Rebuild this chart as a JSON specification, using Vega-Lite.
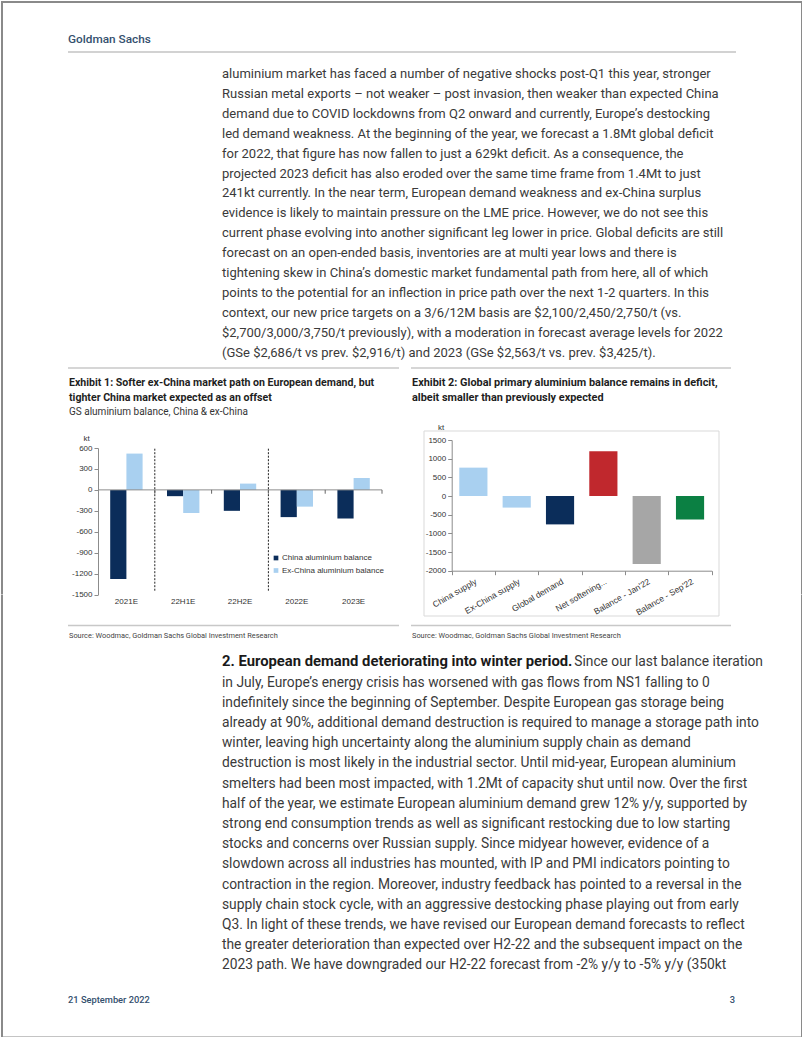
{
  "$schema": "https://vega.github.io/schema/vega-lite/v6.json",
  "padding": 0,
  "background": "white",
  "spacing": 0,
  "bounds": "flush",
  "resolve": {"scale": {"color": "independent"}, "legend": {"color": "independent"}},
  "config": {
    "view": {"stroke": null},
    "axis": {"labelFont": "Liberation Sans", "labelColor": "#333333", "titleFont": "Liberation Sans", "titleColor": "#333333", "domainColor": "#8c8c8c", "tickColor": "#8c8c8c", "grid": false}
  },
  "datasets": {
    "p1": [
      {"line": 1, "text": "aluminium market has faced a number of negative shocks post-Q1 this year, stronger"},
      {"line": 2, "text": "Russian metal exports – not weaker – post invasion, then weaker than expected China"},
      {"line": 3, "text": "demand due to COVID lockdowns from Q2 onward and currently, Europe’s destocking"},
      {"line": 4, "text": "led demand weakness. At the beginning of the year, we forecast a 1.8Mt global deficit"},
      {"line": 5, "text": "for 2022, that figure has now fallen to just a 629kt deficit. As a consequence, the"},
      {"line": 6, "text": "projected 2023 deficit has also eroded over the same time frame from 1.4Mt to just"},
      {"line": 7, "text": "241kt currently. In the near term, European demand weakness and ex-China surplus"},
      {"line": 8, "text": "evidence is likely to maintain pressure on the LME price. However, we do not see this"},
      {"line": 9, "text": "current phase evolving into another significant leg lower in price. Global deficits are still"},
      {"line": 10, "text": "forecast on an open-ended basis, inventories are at multi year lows and there is"},
      {"line": 11, "text": "tightening skew in China’s domestic market fundamental path from here, all of which"},
      {"line": 12, "text": "points to the potential for an inflection in price path over the next 1-2 quarters. In this"},
      {"line": 13, "text": "context, our new price targets on a 3/6/12M basis are $2,100/2,450/2,750/t (vs."},
      {"line": 14, "text": "$2,700/3,000/3,750/t previously), with a moderation in forecast average levels for 2022"},
      {"line": 15, "text": "(GSe $2,686/t vs prev. $2,916/t) and 2023 (GSe $2,563/t vs. prev. $3,425/t)."}
    ],
    "p2head": [
      {"line": 1, "text": "2. European demand deteriorating into winter period."}
    ],
    "p2rest": [
      {"line": 1, "text": "Since our last balance iteration"}
    ],
    "p2": [
      {"line": 2, "text": "in July, Europe’s energy crisis has worsened with gas flows from NS1 falling to 0"},
      {"line": 3, "text": "indefinitely since the beginning of September. Despite European gas storage being"},
      {"line": 4, "text": "already at 90%, additional demand destruction is required to manage a storage path into"},
      {"line": 5, "text": "winter, leaving high uncertainty along the aluminium supply chain as demand"},
      {"line": 6, "text": "destruction is most likely in the industrial sector. Until mid-year, European aluminium"},
      {"line": 7, "text": "smelters had been most impacted, with 1.2Mt of capacity shut until now. Over the first"},
      {"line": 8, "text": "half of the year, we estimate European aluminium demand grew 12% y/y, supported by"},
      {"line": 9, "text": "strong end consumption trends as well as significant restocking due to low starting"},
      {"line": 10, "text": "stocks and concerns over Russian supply. Since midyear however, evidence of a"},
      {"line": 11, "text": "slowdown across all industries has mounted, with IP and PMI indicators pointing to"},
      {"line": 12, "text": "contraction in the region.  Moreover, industry feedback has pointed to a reversal in the"},
      {"line": 13, "text": "supply chain stock cycle, with an aggressive destocking phase playing out from early"},
      {"line": 14, "text": "Q3. In light of these trends, we have revised our European demand forecasts to reflect"},
      {"line": 15, "text": "the greater deterioration than expected over H2-22 and the subsequent impact on the"},
      {"line": 16, "text": "2023 path. We have downgraded our H2-22 forecast from -2% y/y to -5% y/y (350kt"}
    ],
    "ex1": [
      {"cat": "2021E", "series": "China aluminium balance", "value": -1275},
      {"cat": "2021E", "series": "Ex-China aluminium balance", "value": 520},
      {"cat": "22H1E", "series": "China aluminium balance", "value": -90},
      {"cat": "22H1E", "series": "Ex-China aluminium balance", "value": -330},
      {"cat": "22H2E", "series": "China aluminium balance", "value": -300},
      {"cat": "22H2E", "series": "Ex-China aluminium balance", "value": 90},
      {"cat": "2022E", "series": "China aluminium balance", "value": -390},
      {"cat": "2022E", "series": "Ex-China aluminium balance", "value": -240},
      {"cat": "2023E", "series": "China aluminium balance", "value": -410},
      {"cat": "2023E", "series": "Ex-China aluminium balance", "value": 170}
    ],
    "ex2": [
      {"cat": "China supply", "value": 760},
      {"cat": "Ex-China supply", "value": -310},
      {"cat": "Global demand", "value": -760},
      {"cat": "Net softening...", "value": 1200},
      {"cat": "Balance - Jan'22", "value": -1820},
      {"cat": "Balance - Sep'22", "value": -629}
    ]
  },
  "vconcat": [
    {
      "width": 802,
      "height": 439,
      "layer": [
        {"data": {"values": [{}]}, "mark": {"type": "rule", "color": "#8a8a8a", "strokeWidth": 2}, "encoding": {"x": {"value": 1}}},
        {"data": {"values": [{}]}, "mark": {"type": "rule", "color": "#8a8a8a", "strokeWidth": 2}, "encoding": {"x": {"value": 801}}},
        {"data": {"values": [{}]}, "mark": {"type": "rule", "color": "#8a8a8a", "strokeWidth": 2}, "encoding": {"y": {"value": 1}}},
        {"data": {"values": [{"t": "Goldman Sachs"}]}, "mark": {"type": "text", "align": "left", "baseline": "alphabetic", "font": "Roboto", "fontWeight": 500, "fontSize": 11.8, "color": "#34506e"}, "encoding": {"x": {"value": 67}, "y": {"value": 42}, "text": {"field": "t"}}},
        {"data": {"values": [{}]}, "mark": {"type": "rule", "color": "#d2d2d2", "strokeWidth": 2}, "encoding": {"x": {"value": 67}, "x2": {"value": 735}, "y": {"value": 51}}},
        {"data": {"name": "p1"}, "mark": {"type": "text", "align": "left", "baseline": "middle", "font": "Roboto", "fontSize": 13, "color": "#3a3a3a"}, "encoding": {"x": {"value": 221}, "y": {"field": "line", "type": "quantitative", "scale": {"domain": [1, 15], "range": [73, 351.6], "nice": false, "zero": false}, "axis": null}, "text": {"field": "text"}}},
        {"data": {"values": [{}]}, "mark": {"type": "rule", "color": "#c8c8c8", "strokeWidth": 1.5}, "encoding": {"x": {"value": 67}, "x2": {"value": 398}, "y": {"value": 367}}},
        {"data": {"values": [{}]}, "mark": {"type": "rule", "color": "#c8c8c8", "strokeWidth": 1.5}, "encoding": {"x": {"value": 410}, "x2": {"value": 730}, "y": {"value": 367}}},
        {"data": {"values": [{"t": ["Exhibit 1: Softer ex-China market path on European demand, but", "tighter China market expected as an offset"]}]}, "mark": {"type": "text", "align": "left", "baseline": "alphabetic", "font": "Roboto", "fontWeight": "bold", "fontSize": 10.6, "lineHeight": 14.5, "color": "#1e1e1e"}, "encoding": {"x": {"value": 68}, "y": {"value": 385}, "text": {"field": "t"}}},
        {"data": {"values": [{"t": "GS aluminium balance, China & ex-China"}]}, "mark": {"type": "text", "align": "left", "baseline": "alphabetic", "font": "Roboto", "fontSize": 10, "color": "#333333"}, "encoding": {"x": {"value": 68}, "y": {"value": 414}, "text": {"field": "t"}}},
        {"data": {"values": [{"t": ["Exhibit 2: Global primary aluminium balance remains in deficit,", "albeit smaller than previously expected"]}]}, "mark": {"type": "text", "align": "left", "baseline": "alphabetic", "font": "Roboto", "fontWeight": "bold", "fontSize": 10.9, "lineHeight": 14.5, "color": "#1e1e1e"}, "encoding": {"x": {"value": 411}, "y": {"value": 385}, "text": {"field": "t"}}}
      ]
    },
    {
      "width": 802,
      "height": 154.6,
      "resolve": {"scale": {"x": "independent", "y": "independent", "color": "independent"}, "axis": {"x": "independent", "y": "independent"}, "legend": {"color": "independent"}},
      "layer": [
        {"data": {"values": [{}]}, "mark": {"type": "rule", "color": "#8a8a8a", "strokeWidth": 2}, "encoding": {"x": {"value": 1}}},
        {"data": {"values": [{}]}, "mark": {"type": "rule", "color": "#8a8a8a", "strokeWidth": 2}, "encoding": {"x": {"value": 801}}},
        {"data": {"values": [{}]}, "mark": {"type": "rect", "fill": "white", "fillOpacity": 0, "stroke": "#d9d9d9", "strokeWidth": 1}, "encoding": {"x": {"value": 423}, "x2": {"value": 718}, "y": {"value": -9}, "y2": {"value": 176}}},
        {
          "data": {"name": "ex1"},
          "mark": {"type": "bar"},
          "encoding": {
            "x": {"field": "cat", "type": "nominal", "sort": null, "scale": {"domain": ["2021E", "22H1E", "22H2E", "2022E", "2023E"], "range": [97, 381], "paddingInner": 0, "paddingOuter": 0}, "axis": {"orient": "bottom", "title": null, "domain": false, "ticks": false, "labelAngle": 0, "labelFontSize": 8, "labelPadding": 3}},
            "xOffset": {"field": "series", "type": "nominal", "scale": {"domain": ["China aluminium balance", "Ex-China aluminium balance"], "paddingInner": 0, "paddingOuter": 0.753}},
            "y": {"field": "value", "type": "quantitative", "scale": {"domain": [-1500, 600], "range": [154.6, 8], "nice": false, "zero": false}, "axis": {"orient": "left", "offset": -97, "values": [-1500, -1200, -900, -600, -300, 0, 300, 600], "labelExpr": "'' + datum.value", "labelOverlap": false, "title": "kt", "titleAngle": 0, "titleX": -12, "titleY": 0, "titleAlign": "center", "titleBaseline": "alphabetic", "titleFontWeight": "normal", "titleFontSize": 8, "labelFontSize": 8, "tickSize": 4, "labelPadding": 2}},
            "color": {"field": "series", "type": "nominal", "scale": {"domain": ["China aluminium balance", "Ex-China aluminium balance"], "range": ["#0b2d5a", "#a9d0f0"]}, "legend": {"orient": "none", "legendX": 271, "legendY": 114, "title": null, "padding": 0, "symbolType": "square", "symbolSize": 22, "symbolStrokeWidth": 0, "labelFont": "Liberation Sans", "labelFontSize": 8, "labelColor": "#333333", "rowPadding": 4.5, "labelOffset": 2}}
          }
        },
        {"data": {"values": [{}]}, "mark": {"type": "rule", "color": "#8c8c8c", "strokeWidth": 1}, "encoding": {"x": {"datum": 0, "type": "quantitative", "scale": {"domain": [0, 1], "range": [97, 381], "nice": false, "zero": false}, "axis": null}, "x2": {"datum": 1}, "y": {"datum": 0, "type": "quantitative", "scale": {"domain": [-1500, 600], "range": [154.6, 8], "nice": false, "zero": false}, "axis": null}}},
        {"data": {"values": [{"cat": "22H1E"}, {"cat": "2022E"}]}, "mark": {"type": "rule", "color": "#222222", "strokeWidth": 1, "strokeDash": [2, 1.5]}, "encoding": {"x": {"field": "cat", "type": "nominal", "bandPosition": 0, "scale": {"domain": ["2021E", "22H1E", "22H2E", "2022E", "2023E"], "range": [97, 381], "paddingInner": 0, "paddingOuter": 0}, "axis": null}, "y": {"datum": 590, "type": "quantitative", "scale": {"domain": [-1500, 600], "range": [154.6, 8], "nice": false, "zero": false}, "axis": null}, "y2": {"datum": -1460}}},
        {"data": {"values": [{"cat": "22H1E"}, {"cat": "22H2E"}, {"cat": "2022E"}, {"cat": "2023E"}]}, "mark": {"type": "rule", "color": "#666666", "strokeWidth": 1}, "encoding": {"x": {"field": "cat", "type": "nominal", "bandPosition": 0, "scale": {"domain": ["2021E", "22H1E", "22H2E", "2022E", "2023E"], "range": [97, 381], "paddingInner": 0, "paddingOuter": 0}, "axis": null}, "y": {"datum": 0, "type": "quantitative", "scale": {"domain": [-1500, 600], "range": [154.6, 8], "nice": false, "zero": false}, "axis": null}, "y2": {"datum": -55}}},
        {"data": {"values": [{"cat": "2023E"}]}, "mark": {"type": "rule", "color": "#666666", "strokeWidth": 1}, "encoding": {"x": {"field": "cat", "type": "nominal", "bandPosition": 1, "scale": {"domain": ["2021E", "22H1E", "22H2E", "2022E", "2023E"], "range": [97, 381], "paddingInner": 0, "paddingOuter": 0}, "axis": null}, "y": {"datum": 0, "type": "quantitative", "scale": {"domain": [-1500, 600], "range": [154.6, 8], "nice": false, "zero": false}, "axis": null}, "y2": {"datum": -55}}},
        {
          "data": {"name": "ex2"},
          "mark": {"type": "bar", "width": {"band": 0.65}},
          "encoding": {
            "x": {"field": "cat", "type": "nominal", "sort": null, "scale": {"domain": ["China supply", "Ex-China supply", "Global demand", "Net softening...", "Balance - Jan'22", "Balance - Sep'22"], "range": [450.7, 710.7], "paddingInner": 0, "paddingOuter": 0}, "axis": {"orient": "bottom", "offset": -23.9, "title": null, "labelAngle": -30, "labelAlign": "right", "labelBaseline": "top", "tickBand": "extent", "tickSize": 4, "labelFontSize": 8.5, "labelPadding": 2}},
            "y": {"field": "value", "type": "quantitative", "scale": {"domain": [-2000, 1500], "range": [130.7, 0], "nice": false, "zero": false}, "axis": {"orient": "left", "offset": -450.7, "values": [-2000, -1500, -1000, -500, 0, 500, 1000, 1500], "labelExpr": "'' + datum.value", "labelOverlap": false, "title": "kt", "titleAngle": 0, "titleX": -11, "titleY": -11, "titleAlign": "center", "titleBaseline": "alphabetic", "titleFontWeight": "normal", "titleFontSize": 8, "labelFontSize": 8, "tickSize": 4, "labelPadding": 2}},
            "color": {"field": "cat", "type": "nominal", "scale": {"domain": ["China supply", "Ex-China supply", "Global demand", "Net softening...", "Balance - Jan'22", "Balance - Sep'22"], "range": ["#a9d0f0", "#a9d0f0", "#0b2d5a", "#c0282d", "#a6a6a6", "#0b8043"]}, "legend": null}
          }
        }
      ]
    },
    {
      "width": 802,
      "height": 443.4,
      "layer": [
        {"data": {"values": [{}]}, "mark": {"type": "rule", "color": "#8a8a8a", "strokeWidth": 2}, "encoding": {"x": {"value": 1}}},
        {"data": {"values": [{}]}, "mark": {"type": "rule", "color": "#8a8a8a", "strokeWidth": 2}, "encoding": {"x": {"value": 801}}},
        {"data": {"values": [{}]}, "mark": {"type": "rule", "color": "#8a8a8a", "strokeWidth": 2}, "encoding": {"y": {"value": 442.4}}},
        {"data": {"values": [{}]}, "mark": {"type": "rule", "color": "#c8c8c8", "strokeWidth": 1.5}, "encoding": {"x": {"value": 67}, "x2": {"value": 398}, "y": {"value": 30.4}}},
        {"data": {"values": [{}]}, "mark": {"type": "rule", "color": "#c8c8c8", "strokeWidth": 1.5}, "encoding": {"x": {"value": 410}, "x2": {"value": 730}, "y": {"value": 30.4}}},
        {"data": {"values": [{"t": "Source: Woodmac, Goldman Sachs Global Investment Research"}]}, "mark": {"type": "text", "align": "left", "baseline": "alphabetic", "font": "Roboto", "fontSize": 7.4, "color": "#444444"}, "encoding": {"x": {"value": 68}, "y": {"value": 43.4}, "text": {"field": "t"}}},
        {"data": {"values": [{"t": "Source: Woodmac, Goldman Sachs Global Investment Research"}]}, "mark": {"type": "text", "align": "left", "baseline": "alphabetic", "font": "Roboto", "fontSize": 7.4, "color": "#444444"}, "encoding": {"x": {"value": 411}, "y": {"value": 43.4}, "text": {"field": "t"}}},
        {"data": {"name": "p2head"}, "mark": {"type": "text", "align": "left", "baseline": "middle", "font": "Roboto", "fontWeight": "bold", "fontSize": 14.8, "color": "#1a1a1a"}, "encoding": {"x": {"value": 221}, "y": {"field": "line", "type": "quantitative", "scale": {"domain": [1, 16], "range": [67.4, 370.4], "nice": false, "zero": false}, "axis": null}, "text": {"field": "text"}}},
        {"data": {"name": "p2rest"}, "mark": {"type": "text", "align": "right", "baseline": "middle", "font": "Roboto", "fontSize": 13.8, "color": "#3a3a3a"}, "encoding": {"x": {"value": 762}, "y": {"field": "line", "type": "quantitative", "scale": {"domain": [1, 16], "range": [67.4, 370.4], "nice": false, "zero": false}, "axis": null}, "text": {"field": "text"}}},
        {"data": {"name": "p2"}, "mark": {"type": "text", "align": "left", "baseline": "middle", "font": "Roboto", "fontSize": 13.8, "color": "#3a3a3a"}, "encoding": {"x": {"value": 221}, "y": {"field": "line", "type": "quantitative", "scale": {"domain": [1, 16], "range": [67.4, 370.4], "nice": false, "zero": false}, "axis": null}, "text": {"field": "text"}}},
        {"data": {"values": [{"t": "21 September 2022"}]}, "mark": {"type": "text", "align": "left", "baseline": "alphabetic", "font": "Roboto", "fontWeight": 500, "fontSize": 9.3, "color": "#34506e"}, "encoding": {"x": {"value": 67}, "y": {"value": 408.4}, "text": {"field": "t"}}},
        {"data": {"values": [{"t": "3"}]}, "mark": {"type": "text", "align": "right", "baseline": "alphabetic", "font": "Roboto", "fontWeight": 500, "fontSize": 9.3, "color": "#34506e"}, "encoding": {"x": {"value": 734}, "y": {"value": 408.4}, "text": {"field": "t"}}}
      ]
    }
  ]
}
